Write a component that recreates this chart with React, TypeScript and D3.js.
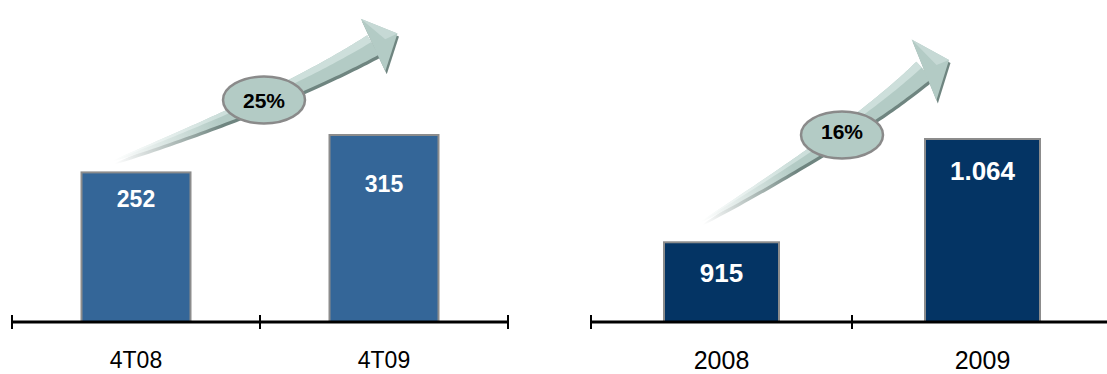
import React from "react";
import * as d3 from "d3";

const quarterCats = ["4T08", "4T09"];
const quarterValues = [252, 315];
const quarterGrowth = "25%";

const yearCats = ["2008", "2009"];
const yearValues = [915, 1064];
const yearGrowth = "16%";

const W = 1107;
const H = 374;
const FONT = "'Liberation Sans', Arial, Helvetica, sans-serif";

const ptBR = d3.formatLocale({
  decimal: ",",
  thousands: ".",
  grouping: [3],
  currency: ["R$", ""],
});
const fmt = ptBR.format(",d");

type P = [number, number];

function arrowGeom(p0: P, p1: P, p2: P, maxHalf: number, headHalf: number, angleDeg: number, headLen: number) {
  const N = 60;
  const top: P[] = [];
  const bot: P[] = [];
  const hiTop: P[] = [];
  const hiBot: P[] = [];
  for (let i = 0; i <= N; i++) {
    const t = i / N;
    const x = (1 - t) * (1 - t) * p0[0] + 2 * (1 - t) * t * p1[0] + t * t * p2[0];
    const y = (1 - t) * (1 - t) * p0[1] + 2 * (1 - t) * t * p1[1] + t * t * p2[1];
    let dx = 2 * (1 - t) * (p1[0] - p0[0]) + 2 * t * (p2[0] - p1[0]);
    let dy = 2 * (1 - t) * (p1[1] - p0[1]) + 2 * t * (p2[1] - p1[1]);
    const len = Math.hypot(dx, dy);
    dx /= len;
    dy /= len;
    const nx = -dy;
    const ny = dx;
    const w = maxHalf * Math.pow(t, 0.7) + 0.3;
    top.push([x - nx * w, y - ny * w]);
    bot.push([x + nx * w, y + ny * w]);
    hiTop.push([x - nx * w, y - ny * w]);
    hiBot.push([x - nx * w * 0.3, y - ny * w * 0.3]);
  }
  const line = d3.line();
  const shaft = line(top.concat(bot.slice().reverse())) + "Z";
  const highlight = line(hiTop.concat(hiBot.slice().reverse())) + "Z";
  const a = (angleDeg * Math.PI) / 180;
  const D: P = [Math.cos(a), Math.sin(a)];
  const Nn: P = [-D[1], D[0]];
  const c1: P = [p2[0] - Nn[0] * headHalf, p2[1] - Nn[1] * headHalf];
  const c2: P = [p2[0] + Nn[0] * headHalf, p2[1] + Nn[1] * headHalf];
  const tip: P = [p2[0] + D[0] * headLen, p2[1] + D[1] * headLen];
  const head = line([c1, tip, c2]) + "Z";
  const headHi = line([c1, tip, [p2[0] + D[0] * headLen * 0.5, p2[1] + D[1] * headLen * 0.5]]) + "Z";
  return { shaft, highlight, head, headHi };
}

function Arrow({ id, p0, p1, p2, maxHalf, headHalf, angle, headLen }: any) {
  const g = arrowGeom(p0, p1, p2, maxHalf, headHalf, angle, headLen);
  const gx2 = p0[0] + (p2[0] - p0[0]) * 0.4;
  const gy2 = p0[1] + (p2[1] - p0[1]) * 0.4;
  return (
    <g>
      <defs>
        <linearGradient id={id + "main"} gradientUnits="userSpaceOnUse" x1={p0[0]} y1={p0[1]} x2={gx2} y2={gy2}>
          <stop offset="0" stopColor="#ffffff" />
          <stop offset="1" stopColor="#b3cbc5" />
        </linearGradient>
        <linearGradient id={id + "shadow"} gradientUnits="userSpaceOnUse" x1={p0[0]} y1={p0[1]} x2={gx2} y2={gy2}>
          <stop offset="0" stopColor="#ffffff" />
          <stop offset="1" stopColor="#6f8580" />
        </linearGradient>
        <linearGradient id={id + "hi"} gradientUnits="userSpaceOnUse" x1={p0[0]} y1={p0[1]} x2={gx2} y2={gy2}>
          <stop offset="0" stopColor="#ffffff" />
          <stop offset="1" stopColor="#cddfdb" />
        </linearGradient>
      </defs>
      <g transform="translate(1.5,3)">
        <path d={g.shaft} fill={`url(#${id}shadow)`} />
        <path d={g.head} fill="#6f8580" />
      </g>
      <path d={g.shaft} fill={`url(#${id}main)`} />
      <path d={g.highlight} fill={`url(#${id}hi)`} />
      <path d={g.head} fill="#b3cbc5" />
      <path d={g.headHi} fill="#c6d9d5" />
    </g>
  );
}

function Badge({ cx, cy, label, dy }: any) {
  return (
    <g>
      <ellipse cx={cx} cy={cy} rx={41} ry={23.5} fill="#b3cbc5" stroke="#8a8a8a" strokeWidth={2.5} />
      <text x={cx} y={cy + dy} textAnchor="middle" fontFamily={FONT} fontWeight="bold" fontSize={21} fill="#000">
        {label}
      </text>
    </g>
  );
}

export default function App() {
  const axisY = 322;

  // Left chart (quarters)
  const xL = d3.scaleBand<string>().domain(quarterCats).range([12, 508]).padding(0);
  const yL = d3.scaleLinear().domain([0, 315]).range([axisY, 135]);
  const bwL = 109;
  const labelOffL = [35, 57];

  // Right chart (years)
  const xR = d3.scaleBand<string>().domain(yearCats).range([591, 1113]).padding(0);
  const yR = d3.scaleLinear().domain([800, 1064]).range([axisY, 139]);
  const bwR = 115;
  const labelOffR = [40, 41];

  const ticksL = [12, 12 + xL.step(), 12 + 2 * xL.step()];
  const ticksR = [591, 591 + xR.step()];

  return (
    <svg width={W} height={H} style={{ position: "absolute", left: 0, top: 0, background: "#fff" }}>
      {/* Left arrow */}
      <Arrow id="aL" p0={[113, 161]} p1={[285, 97]} p2={[373, 45]} maxHalf={11} headHalf={29} angle={-25} headLen={27} />
      <Badge cx={264} cy={100} label={quarterGrowth} dy={7.5} />

      {/* Right arrow */}
      <Arrow id="aR" p0={[701, 222]} p1={[860, 128]} p2={[924, 70]} maxHalf={11} headHalf={33} angle={-22} headLen={27} />
      <Badge cx={842} cy={135} label={yearGrowth} dy={3.5} />

      {/* Left bars */}
      {quarterCats.map((c, i) => {
        const x = (xL(c) as number) + (xL.step() - bwL) / 2;
        const y = yL(quarterValues[i]);
        return (
          <g key={c}>
            <rect x={x} y={y} width={bwL} height={axisY - y} fill="#346698" stroke="#8c8c8c" strokeWidth={2} />
            <text x={x + bwL / 2} y={y + labelOffL[i]} textAnchor="middle" fontFamily={FONT} fontWeight="bold" fontSize={23} fill="#fff">
              {fmt(quarterValues[i])}
            </text>
            <text x={x + bwL / 2} y={368} textAnchor="middle" fontFamily={FONT} fontSize={23} fill="#000">
              {c}
            </text>
          </g>
        );
      })}
      <line x1={12} x2={508} y1={axisY} y2={axisY} stroke="#000" strokeWidth={3} />
      {ticksL.map((t) => (
        <line key={t} x1={t} x2={t} y1={axisY - 7} y2={axisY + 7} stroke="#000" strokeWidth={2} />
      ))}

      {/* Right bars */}
      {yearCats.map((c, i) => {
        const x = (xR(c) as number) + (xR.step() - bwR) / 2;
        const y = yR(yearValues[i]);
        return (
          <g key={c}>
            <rect x={x} y={y} width={bwR} height={axisY - y} fill="#043464" stroke="#8c8c8c" strokeWidth={2} />
            <text x={x + bwR / 2} y={y + labelOffR[i]} textAnchor="middle" fontFamily={FONT} fontWeight="bold" fontSize={26} fill="#fff">
              {fmt(yearValues[i])}
            </text>
            <text x={x + bwR / 2} y={368.5} textAnchor="middle" fontFamily={FONT} fontSize={25} fill="#000">
              {c}
            </text>
          </g>
        );
      })}
      <line x1={591} x2={1113} y1={axisY} y2={axisY} stroke="#000" strokeWidth={3} />
      {ticksR.map((t) => (
        <line key={t} x1={t} x2={t} y1={axisY - 7} y2={axisY + 7} stroke="#000" strokeWidth={2} />
      ))}
    </svg>
  );
}
